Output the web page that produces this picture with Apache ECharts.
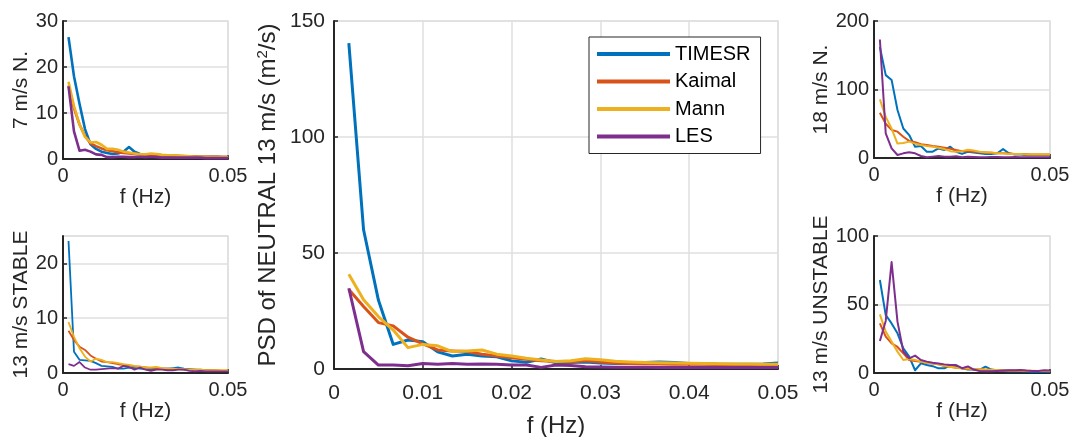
<!DOCTYPE html>
<html>
<head>
<meta charset="utf-8">
<script src="https://cdn.jsdelivr.net/npm/echarts@6/dist/echarts.min.js"></script>
<style>html,body{margin:0;padding:0;background:#fff}#c{width:1069px;height:437px}</style>
</head>
<body>
<div id="c"></div>
<script>
// ---------- DATA ----------
const freq = [0.00167,0.00333,0.005,0.00667,0.00833,0.01,0.01167,0.01333,0.015,0.01667,0.01833,0.02,0.02167,0.02333,0.025,0.02667,0.02833,0.03,0.03167,0.03333,0.035,0.03667,0.03833,0.04,0.04167,0.04333,0.045,0.04667,0.04833,0.05];
const seriesNames = ['TIMESR','Kaimal','Mann','LES'];

// 7 m/s N.
const n7_timesr = [26.5,18,12,6.5,3.2,2.2,1.6,1.3,1.1,1.2,1.6,2.6,1.6,1.1,1.0,0.9,0.8,0.8,0.7,0.7,0.6,0.6,0.6,0.5,0.5,0.5,0.5,0.5,0.4,0.4];
const n7_kaimal = [16,11,7.5,5,3.4,2.8,2.3,1.9,1.7,1.5,1.3,1.2,1.1,1.0,1.0,0.9,0.9,0.8,0.8,0.7,0.7,0.6,0.6,0.6,0.5,0.5,0.5,0.5,0.4,0.4];
const n7_mann = [16.8,11.5,7.5,4.8,3.6,3.7,3.1,2.2,2.2,2.0,1.6,1.4,1.2,1.0,1.0,1.2,1.1,0.9,0.8,0.8,0.7,0.7,0.6,0.5,0.5,0.5,0.4,0.4,0.4,0.4];
const n7_les = [15.8,6,1.8,2.0,1.6,1.0,0.9,0.4,0.4,0.5,0.5,0.4,0.4,0.5,0.4,0.5,0.4,0.3,0.3,0.3,0.3,0.3,0.3,0.3,0.3,0.2,0.2,0.2,0.2,0.2];

// 13 m/s STABLE
const s13_timesr = [24.1,3.9,2.4,2.3,2.2,1.8,1.3,1.2,1.1,0.8,0.8,1.0,0.9,0.8,0.7,0.7,0.7,0.8,0.8,0.9,1.0,0.8,0.7,0.6,0.6,0.5,0.5,0.4,0.4,0.4];
const s13_kaimal = [7.7,6.0,4.8,4.2,3.2,2.6,2.1,2.0,1.8,1.6,1.5,1.4,1.2,1.1,1.0,0.9,0.9,0.8,0.8,0.7,0.7,0.6,0.6,0.6,0.5,0.5,0.5,0.5,0.4,0.4];
const s13_mann = [9.3,6.6,4.5,3.0,2.1,2.6,2.4,2.0,2.0,1.8,1.6,1.5,1.3,1.2,1.0,1.0,1.1,0.9,0.8,0.8,0.7,0.7,0.6,0.6,0.6,0.5,0.5,0.5,0.5,0.5];
const s13_les = [1.6,1.3,2.0,1.0,0.6,0.6,0.7,0.8,0.9,0.8,1.3,1.1,0.6,1.0,0.6,0.4,0.6,0.6,0.5,0.5,0.6,0.6,0.4,0.3,0.4,0.3,0.3,0.3,0.3,0.3];

// NEUTRAL 13 m/s
const n13_timesr = [140.5,60,29.7,10.6,12.5,11.8,7.4,5.6,6.4,5.6,5.3,3.5,2.9,4.3,2.7,2.8,3.0,2.6,2.4,2.5,2.8,3.0,2.8,2.4,2.3,2.1,2.0,2.0,2.2,2.6];
const n13_kaimal = [34.3,26.9,20,18.6,13.7,10.8,8.2,7.8,7.5,6.4,5.6,4.8,4.2,3.6,3.2,3.0,3.6,3.0,2.6,2.4,2.3,2.2,2.1,2.0,2.0,1.9,1.9,1.8,1.8,1.8];
const n13_mann = [40.8,29.8,22.6,16.8,9.2,10.6,10.0,7.5,7.8,8.2,6.4,5.6,4.6,3.9,3.2,3.6,4.4,4.0,3.3,3.0,2.8,2.7,2.6,2.5,2.4,2.3,2.2,2.2,2.1,2.1];
const n13_les = [34.8,7.5,1.7,1.7,1.4,2.4,2.0,2.4,2.0,2.2,2.0,1.7,1.7,0.7,1.7,1.5,1.0,0.9,0.8,0.8,0.8,0.7,0.7,0.7,0.7,0.7,0.6,0.6,0.6,0.6];

// 18 m/s N.
const n18_timesr = [162,121,114,70,43,33.5,16.5,17.5,9.2,9.2,14,11.7,16.5,9,6,9,8,7,6,6,7,13,7,5,5,4,4,4,4,4];
const n18_kaimal = [66,50,41,38.5,31,25,23,20,19,17.5,16.5,15,13.6,11.7,10,10,9,8.5,8,7.5,7,7,6.5,6,6,5.5,5,5,5,5];
const n18_mann = [85.6,60,43,21,22,23.9,21,19,17.5,16.5,15,13,10,9,10,12,11,9,8,8,7,7,6,6,6,5,5,5,5,5];
const n18_les = [173,36,14,4.4,6.8,8.3,6.8,2.9,1,2,2.9,2,2,2.5,1.2,1.8,1.5,1.0,1.2,1.6,1.3,1.0,1.2,1.4,1.1,1.0,1.2,1.0,1.1,1.0];

// 13 m/s UNSTABLE
const u13_timesr = [67.9,42.3,36.2,29,18,11.9,2,7,5.8,5,3.4,3.4,5.8,5,3.4,2.5,2.5,2.2,4.6,2.5,2,1.5,1.3,1.2,1.2,1.1,1.0,1.0,1.0,1.0];
const u13_kaimal = [36.2,26.5,21.6,19,14.3,9.4,8.7,8.2,7.5,7,6.3,5,4.6,3.9,3.4,3.0,2.8,2.5,2.3,2.1,2.0,1.9,1.8,1.7,1.6,1.5,1.5,1.4,1.4,1.3];
const u13_mann = [42.8,30.2,22.9,15.6,9.5,10.2,9.5,8.3,7.5,7,6.3,5.3,4.6,3.9,3.4,3.2,3.0,2.8,2.5,2.3,2.2,2.0,1.9,1.8,1.7,1.6,1.6,1.5,1.5,1.5];
const u13_les = [23.4,38,81,37.5,15.6,10.7,12.7,9.5,8.3,7.5,7,6.3,5.8,5.8,3.5,4.8,2.5,1.5,1.2,1.2,1.5,1.8,2.0,2.0,2.2,1.8,1.5,1.5,2.0,1.8];

// ---------- LAYOUT / STYLE ----------
const FONT = '"Liberation Sans", Arial, Helvetica, sans-serif';
const TXT = '#262626';
const GRIDC = '#dfdfdf';
const COLORS = ['#0072BD','#D95319','#EDB120','#7E2F8E'];

const panels = [
  {box:{left:63,top:21,width:165,height:138}, yMax:30, yInt:10, xInt:0.05, yName:'7 m/s N.', data:[n7_timesr,n7_kaimal,n7_mann,n7_les], lw:2.6, big:false, yGap:27},
  {box:{left:63,top:236,width:165,height:137}, yMax:25, yInt:10, xInt:0.05, yName:'13 m/s STABLE', data:[s13_timesr,s13_kaimal,s13_mann,s13_les], lw:1.8, big:false, yGap:27},
  {box:{left:334,top:21,width:444,height:348}, yMax:150, yInt:50, xInt:0.01, yName:'PSD of NEUTRAL 13 m/s (m{sup|2}/s)', data:[n13_timesr,n13_kaimal,n13_mann,n13_les], lw:3, big:true, yGap:52},
  {box:{left:874,top:21,width:176,height:137}, yMax:200, yInt:100, xInt:0.05, yName:'18 m/s N.', data:[n18_timesr,n18_kaimal,n18_mann,n18_les], lw:2, big:false, yGap:34},
  {box:{left:874,top:236,width:176,height:137}, yMax:100, yInt:50, xInt:0.05, yName:'13 m/s UNSTABLE', data:[u13_timesr,u13_kaimal,u13_mann,u13_les], lw:2, big:false, yGap:34}
];

const grid = [], xAxis = [], yAxis = [], series = [];
panels.forEach((p, i) => {
  grid.push(Object.assign({show:true, borderColor:GRIDC, borderWidth:1.5, backgroundColor:'#fff', containLabel:false, outerBoundsMode:'none'}, p.box));
  const tickFs = p.big ? 21 : 20;
  const nameFs = p.big ? 24 : 21;
  xAxis.push({
    type:'value', gridIndex:i, min:0, max:0.05, interval:p.xInt,
    name:'f (Hz)', nameLocation:'middle', nameGap: p.big ? 45 : 28,
    nameTextStyle:{fontFamily:FONT, fontSize:nameFs, color:TXT},
    axisLine:{show:true, onZero:false, lineStyle:{color:TXT, width:2}},
    axisTick:{show:true, inside:true, length:4, lineStyle:{color:TXT, width:1.5}},
    axisLabel:{fontFamily:FONT, fontSize:tickFs, color:TXT, margin: p.big ? 14 : 7},
    splitLine:{show:true, lineStyle:{color:GRIDC, width:1.5}}
  });
  yAxis.push({
    type:'value', gridIndex:i, min:0, max:p.yMax, interval:p.yInt,
    name:p.yName, nameLocation:'middle', nameGap:p.yGap,
    nameTextStyle:{fontFamily:FONT, fontSize:nameFs, color:TXT,
      rich:{sup:{fontFamily:FONT, fontSize:15, color:TXT, verticalAlign:'bottom', padding:[0,0,12,0]}}},
    axisLine:{show:true, onZero:false, lineStyle:{color:TXT, width:2}},
    axisTick:{show:true, inside:true, length:4, lineStyle:{color:TXT, width:1.5}},
    axisLabel:{fontFamily:FONT, fontSize:tickFs, color:TXT, margin: p.big ? 9 : 5, showMaxLabel: (p.yMax % p.yInt === 0)},
    splitLine:{show:true, lineStyle:{color:GRIDC, width:1.5}}
  });
  p.data.forEach((arr, k) => {
    series.push({
      type:'line', name:seriesNames[k], xAxisIndex:i, yAxisIndex:i,
      symbol:'none', silent:true, color:COLORS[k],
      lineStyle:{color:COLORS[k], width:p.lw, join:'round'},
      data: freq.map((f, j) => [f, arr[j]])
    });
  });
});

const chart = echarts.init(document.getElementById('c'), null, {renderer:'canvas'});
chart.setOption({
  animation:false,
  backgroundColor:'#fff',
  grid, xAxis, yAxis, series,
  legend:{
    data:seriesNames, orient:'vertical', left:589, top:37,
    padding:[7,10,7,8], itemGap:7.5, itemWidth:73, itemHeight:4, icon:'rect',
    borderColor:TXT, borderWidth:1, borderRadius:0, backgroundColor:'#fff',
    textStyle:{fontFamily:FONT, fontSize:20, color:'#000'}
  }
});
</script>
</body>
</html>
